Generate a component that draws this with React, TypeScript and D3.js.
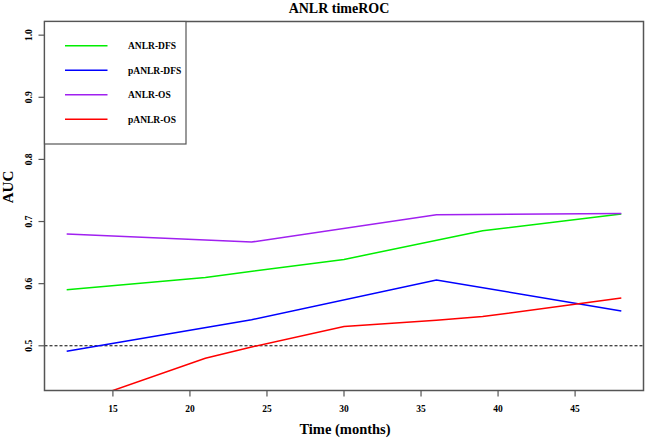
import React from "react";
import * as d3 from "d3";

const title = "ANLR timeROC";
const xLabel = "Time (months)";
const yLabel = "AUC";
const xTicks = [15, 20, 25, 30, 35, 40, 45];
const yTicks = [0.5, 0.6, 0.7, 0.8, 0.9, 1.0];
const xDomain = [12, 48];
const yDomain = [0.45, 1.0];
const refLine = 0.5;

const seriesNames = ["ANLR-DFS", "pANLR-DFS", "ANLR-OS", "pANLR-OS"];
const seriesColors = ["#00ee00", "#0000ff", "#a020f0", "#ff0000"];

const anlrDfsTimes = [12, 21, 30, 39, 48];
const anlrDfsAuc = [0.59, 0.61, 0.639, 0.685, 0.712];
const panlrDfsTimes = [12, 24, 36, 48];
const panlrDfsAuc = [0.491, 0.542, 0.606, 0.556];
const anlrOsTimes = [12, 24, 36, 48];
const anlrOsAuc = [0.68, 0.667, 0.711, 0.713];
const panlrOsTimes = [12, 21, 24, 30, 36, 39, 48];
const panlrOsAuc = [0.402, 0.48, 0.498, 0.531, 0.541, 0.547, 0.577];

const W = 646;
const H = 439;
const left = 44.5;
const right = 643.5;
const top = 21.5;
const bottom = 390.5;

export default function App() {
  const padX = (xDomain[1] - xDomain[0]) * 0.04;
  const padY = (yDomain[1] - yDomain[0]) * 0.04;
  const x = d3.scaleLinear().domain([xDomain[0] - padX, xDomain[1] + padX]).range([left, right]);
  const y = d3.scaleLinear().domain([yDomain[0] - padY, yDomain[1] + padY]).range([bottom, top]);
  const line = d3
    .line<[number, number]>()
    .x((d) => x(d[0]))
    .y((d) => y(d[1]));
  const series = [
    d3.zip(anlrDfsTimes, anlrDfsAuc),
    d3.zip(panlrDfsTimes, panlrDfsAuc),
    d3.zip(anlrOsTimes, anlrOsAuc),
    d3.zip(panlrOsTimes, panlrOsAuc),
  ] as [number, number][][];
  const font = "'Liberation Serif', 'Times New Roman', serif";
  const axisColor = "#555";
  return (
    <svg
      width={W}
      height={H}
      style={{ position: "absolute", left: 0, top: 0, background: "#fff" }}
      fontFamily={font}
      fontWeight="bold"
    >
      <defs>
        <clipPath id="plotclip">
          <rect x={left} y={top} width={right - left} height={bottom - top} />
        </clipPath>
      </defs>
      <text x={(left + right) / 2 - 5} y={13} textAnchor="middle" fontSize={14}>
        {title}
      </text>
      <g clipPath="url(#plotclip)">
        <line
          x1={left}
          x2={right}
          y1={y(refLine)}
          y2={y(refLine)}
          stroke="#000"
          strokeWidth={1}
          strokeDasharray="3 2"
        />
        {series.map((s, i) => (
          <path key={i} d={line(s) || ""} fill="none" stroke={seriesColors[i]} strokeWidth={1.5} />
        ))}
      </g>
      <rect x={left} y={top} width={right - left} height={bottom - top} fill="none" stroke={axisColor} strokeWidth={1.5} />
      {xTicks.map((t) => (
        <g key={t}>
          <line x1={x(t)} x2={x(t)} y1={bottom} y2={bottom + 6} stroke={axisColor} strokeWidth={1.2} />
          <text x={x(t)} y={bottom + 21} textAnchor="middle" fontSize={9.5}>
            {t}
          </text>
        </g>
      ))}
      {yTicks.map((t) => (
        <g key={t}>
          <line x1={left - 6} x2={left} y1={y(t)} y2={y(t)} stroke={axisColor} strokeWidth={1.2} />
          <text
            transform={`translate(${left - 13},${y(t)}) rotate(-90)`}
            textAnchor="middle"
            fontSize={9.5}
          >
            {t.toFixed(1)}
          </text>
        </g>
      ))}
      <text x={(left + right) / 2 + 1} y={434} textAnchor="middle" fontSize={14.5}>
        {xLabel}
      </text>
      <text transform={`translate(13,187) rotate(-90)`} textAnchor="middle" fontSize={15}>
        {yLabel}
      </text>
      <rect x={left} y={top} width={186 - left} height={144 - top} fill="#fff" stroke={axisColor} strokeWidth={1.2} />
      {seriesNames.map((n, i) => {
        const ly = 45.7 + i * 24.5;
        return (
          <g key={n}>
            <line x1={65} x2={107.5} y1={ly} y2={ly} stroke={seriesColors[i]} strokeWidth={1.5} />
            <text x={128} y={ly + 3.5} fontSize={9.5}>
              {n}
            </text>
          </g>
        );
      })}
    </svg>
  );
}
